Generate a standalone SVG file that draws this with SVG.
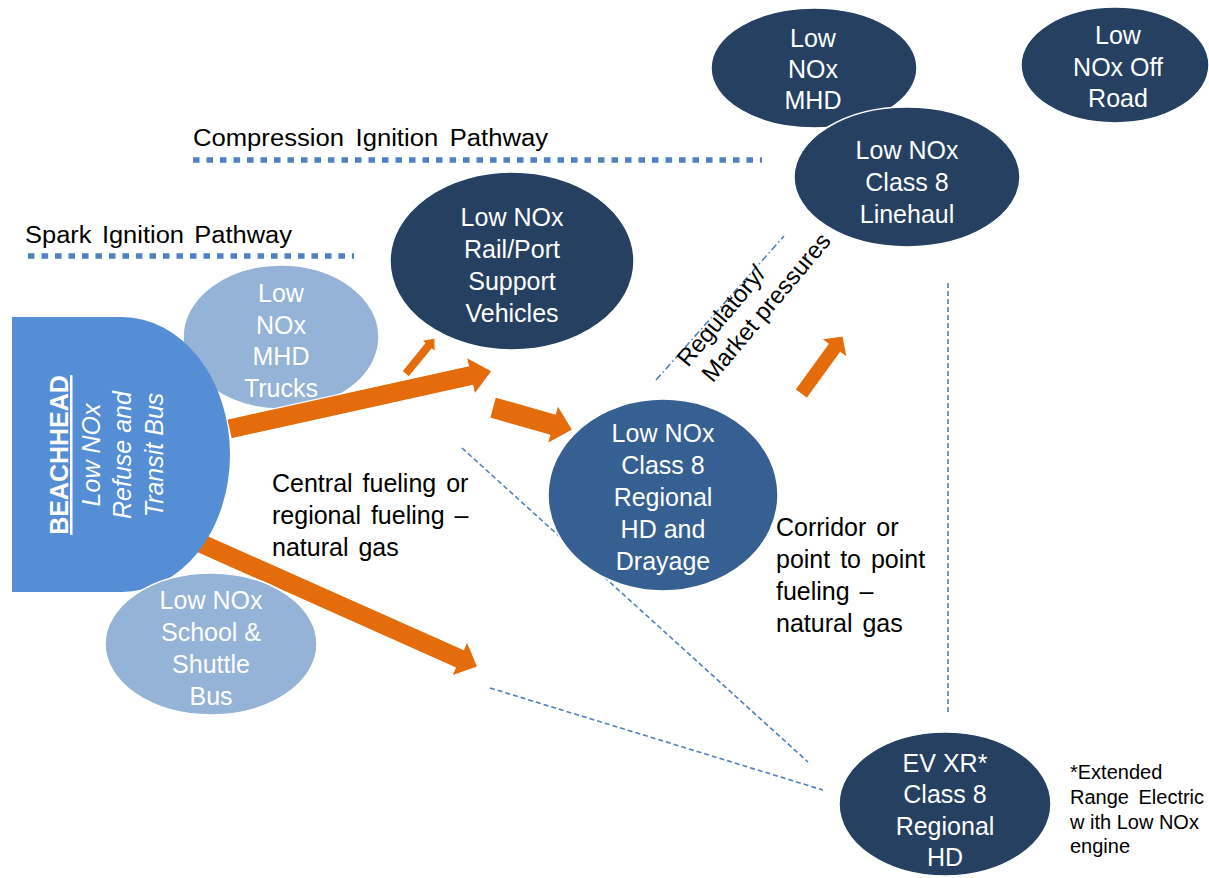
<svg xmlns="http://www.w3.org/2000/svg" width="1209" height="878" viewBox="0 0 1209 878">
<defs>
<style>
text{font-family:"Liberation Sans",Arial,sans-serif;}
.nt{fill:#ffffff;font-size:25px;text-anchor:middle;}
.lb{fill:#000000;font-size:25px;word-spacing:3px;}
.fn{fill:#000000;font-size:20px;}
.dark{fill:#254061;stroke:#ffffff;stroke-width:1.5;}
.mid{fill:#376092;stroke:#ffffff;stroke-width:1.5;}
.light{fill:#95B3D7;stroke:#ffffff;stroke-width:1.5;}
.arrow{fill:#E46C0A;stroke:#ffffff;stroke-width:1.2;stroke-linejoin:miter;}
.path{fill:none;stroke:#4F81BD;stroke-width:5.5;stroke-dasharray:6.5 7;}
.thin{fill:none;stroke:#4F81BD;stroke-width:1.6;stroke-dasharray:5 3;}
.dd{fill:none;stroke:#4F81BD;stroke-width:1.6;stroke-dasharray:7 3 1.5 3;}
</style>
</defs>
<rect width="1209" height="878" fill="#ffffff"/>

<g id="pathway-labels">
<text x="193" y="146" font-size="23" word-spacing="4" textLength="355" lengthAdjust="spacingAndGlyphs">Compression Ignition Pathway</text>
<line class="path" x1="193" y1="160" x2="762" y2="160"/>
<text x="25" y="243" font-size="23" word-spacing="3" textLength="267" lengthAdjust="spacingAndGlyphs">Spark Ignition Pathway</text>
<line class="path" x1="28" y1="256" x2="354" y2="256"/>
</g>

<g id="connectors">
<line class="thin" x1="462" y1="448" x2="808" y2="762"/>
<line class="thin" x1="490" y1="688" x2="823" y2="790"/>
<line class="thin" x1="948" y1="283" x2="948" y2="713" stroke-dasharray="4 2"/>
<line class="dd" x1="656" y1="380" x2="784" y2="236"/>
</g>

<g id="node-mhd-trucks">
<ellipse class="light" cx="281" cy="337" rx="98" ry="72"/>
<text class="nt" x="281" y="302">Low</text>
<text class="nt" x="281" y="334">NOx</text>
<text class="nt" x="281" y="365">MHD</text>
<text class="nt" x="281" y="397">Trucks</text>
</g>

<g id="orange-arrows">
<polygon class="arrow" points="226.8,419.2 468.3,365.9 466.4,357.1 492,371 474.6,394.3 472.7,385.5 231.2,438.8"/>
<polygon class="arrow" points="402,371.1 424.8,343.2 421.4,340.3 435,338 435.2,351.9 431.8,349 409,376.9"/>
<polygon class="arrow" points="495.3,396.9 555.3,413.9 557.7,405.2 572.8,429.9 547.3,443.8 549.7,435.1 489.7,418.1"/>
<polygon class="arrow" points="199.1,531.7 463.5,649.5 467.1,641.2 477.7,666.7 451.7,676 455.3,667.7 190.9,549.9"/>
<polygon class="arrow" points="794.9,389.6 828.1,343.8 821.2,338.8 843,336 847.2,357.6 840.3,352.6 807.1,398.4"/>
</g>

<g id="node-beachhead">
<path d="M12,317 H122 A108,137.5 0 0 1 122,592 H12 Z" fill="#558ED5"/>
<text class="nt" transform="translate(68,455) rotate(-90)" font-size="24" font-weight="bold" text-decoration="underline">BEACHHEAD</text>
<text class="nt" transform="translate(100,455) rotate(-90)" font-size="24" font-style="italic">Low NOx</text>
<text class="nt" transform="translate(131,455) rotate(-90)" font-size="24" font-style="italic">Refuse and</text>
<text class="nt" transform="translate(163,455) rotate(-90)" font-size="24" font-style="italic">Transit Bus</text>
</g>

<g id="node-school-bus">
<ellipse class="light" cx="211" cy="644" rx="106" ry="71"/>
<text class="nt" x="211" y="609">Low NOx</text>
<text class="nt" x="211" y="641">School &amp;</text>
<text class="nt" x="211" y="673">Shuttle</text>
<text class="nt" x="211" y="705">Bus</text>
</g>

<g id="node-rail-port">
<ellipse class="dark" cx="512" cy="261" rx="122" ry="89"/>
<text class="nt" x="512" y="226">Low NOx</text>
<text class="nt" x="512" y="258">Rail/Port</text>
<text class="nt" x="512" y="290">Support</text>
<text class="nt" x="512" y="322">Vehicles</text>
</g>

<g id="node-mhd">
<ellipse class="dark" cx="814" cy="68" rx="103" ry="60"/>
<text class="nt" x="813" y="47">Low</text>
<text class="nt" x="813" y="78">NOx</text>
<text class="nt" x="813" y="109">MHD</text>
</g>

<g id="node-off-road">
<ellipse class="dark" cx="1115" cy="65" rx="94" ry="58"/>
<text class="nt" x="1118" y="44">Low</text>
<text class="nt" x="1118" y="76">NOx Off</text>
<text class="nt" x="1118" y="107">Road</text>
</g>

<g id="node-linehaul">
<ellipse class="dark" cx="907" cy="177" rx="113" ry="70"/>
<text class="nt" x="907" y="159">Low NOx</text>
<text class="nt" x="907" y="191">Class 8</text>
<text class="nt" x="907" y="223">Linehaul</text>
</g>

<g id="node-regional-drayage">
<ellipse class="mid" cx="663" cy="495" rx="115" ry="96"/>
<text class="nt" x="663" y="442">Low NOx</text>
<text class="nt" x="663" y="474">Class 8</text>
<text class="nt" x="663" y="506">Regional</text>
<text class="nt" x="663" y="538">HD and</text>
<text class="nt" x="663" y="570">Drayage</text>
</g>

<g id="node-ev-xr">
<ellipse class="dark" cx="945" cy="804" rx="106" ry="72"/>
<text class="nt" x="945" y="772">EV XR*</text>
<text class="nt" x="945" y="803">Class 8</text>
<text class="nt" x="945" y="835">Regional</text>
<text class="nt" x="945" y="866">HD</text>
</g>

<g id="labels">
<text class="lb" x="272" y="492">Central fueling or</text>
<text class="lb" x="272" y="524">regional fueling –</text>
<text class="lb" x="272" y="556">natural gas</text>
<text class="lb" x="776" y="536">Corridor or</text>
<text class="lb" x="776" y="568">point to point</text>
<text class="lb" x="776" y="600">fueling –</text>
<text class="lb" x="776" y="632">natural gas</text>
<text transform="translate(688,368) rotate(-50)" font-size="24" fill="#000000"><tspan x="0" y="0">Regulatory/</tspan><tspan x="4" y="29">Market pressures</tspan></text>
<text class="fn" x="1070" y="779">*Extended</text>
<text class="fn" x="1070" y="804" word-spacing="4">Range Electric</text>
<text class="fn" x="1070" y="829">w ith Low NOx</text>
<text class="fn" x="1070" y="853">engine</text>
</g>
</svg>
